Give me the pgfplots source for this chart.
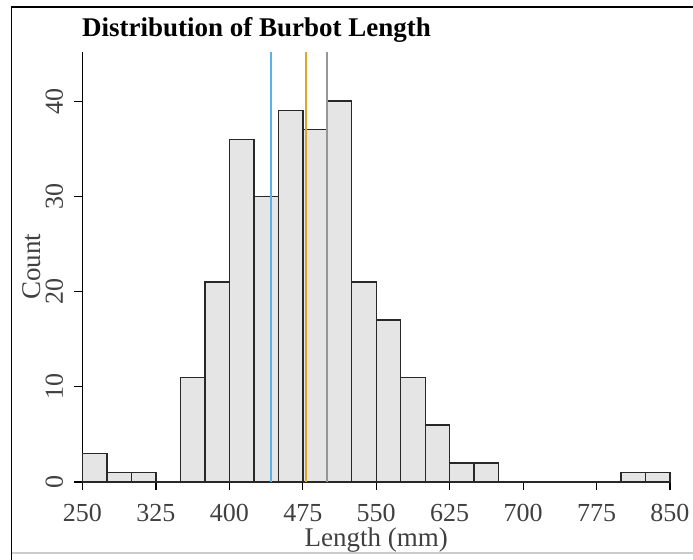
\documentclass[border=0pt]{standalone}
\usepackage{fontspec}
\setmainfont{Liberation Serif}
\usepackage{pgfplots}
\pgfplotsset{compat=1.18}

\definecolor{barfill}{RGB}{229,229,229}
\definecolor{baredge}{RGB}{40,40,40}
\definecolor{meanblue}{RGB}{86,180,233}
\definecolor{medgold}{RGB}{218,168,40}
\definecolor{modegray}{RGB}{150,150,150}

\begin{document}
\begin{tikzpicture}
% picture is 693 x 560 px at 0.5pt per px
\path[use as bounding box] (0,0) rectangle (346.5pt,280pt);
\begin{axis}[
    at={(41.25pt,39pt)}, anchor=south west,
    scale only axis,
    width=293.75pt, height=215.15pt,
    xmin=250, xmax=850, ymin=0, ymax=45.2,
    axis lines*=left,
    axis line style={-, line width=0.8pt},
    xtick={250,325,...,850},
    ytick={0,10,20,30,40},
    tick align=outside,
    major tick length=4pt,
    tick style={line width=0.6pt, black},
    /pgf/number format/assume math mode=true,
    /pgf/number format/1000 sep={},
    ticklabel style={font=\fontsize{13}{15}\selectfont, text=black!75},
    xticklabel style={yshift=-3.5pt},
    yticklabel style={rotate=90, anchor=south, inner sep=5.5pt},
    xlabel={Length (mm)},
    ylabel={Count},
    label style={font=\fontsize{13.5}{16}\selectfont, text=black!75},
    xlabel style={yshift=4pt},
    ylabel style={yshift=-6.5pt},
    clip=false,
]
\addplot[ybar interval, fill=barfill, draw=baredge, line width=0.7pt] coordinates {
    (250,3) (275,1) (300,1) (325,0) (350,11) (375,21) (400,36) (425,30)
    (450,39) (475,37) (500,40) (525,21) (550,17) (575,11) (600,6) (625,2)
    (650,2) (675,0) (700,0) (725,0) (750,0) (775,0) (800,1) (825,1) (850,1)
};
\addplot[meanblue, line width=1.2pt] coordinates {(442.5,0) (442.5,45.2)};
\addplot[medgold, line width=1.2pt] coordinates {(478.3,0) (478.3,45.2)};
\addplot[modegray, line width=1.2pt] coordinates {(499.4,0) (499.4,45.2)};
\end{axis}
\node[anchor=base west, font=\fontsize{13.5}{16}\selectfont\bfseries, inner sep=0pt]
    at (40.9pt,261.6pt) {Distribution of Burbot Length};
% outer frame
\draw[black, line width=0.8pt] (5.85pt,0pt) -- (5.85pt,276.35pt) -- (346.5pt,276.35pt);
\draw[black!20, line width=0.6pt] (5.85pt,3.5pt) -- (346.5pt,3.5pt);
\end{tikzpicture}
\end{document}
